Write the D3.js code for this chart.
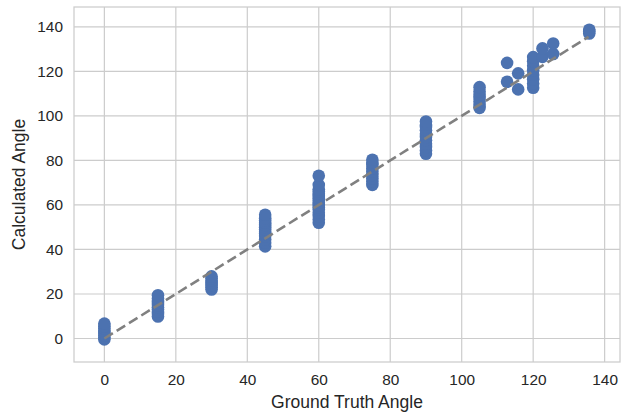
<!DOCTYPE html>
<html>
<head>
<meta charset="utf-8">
<script src="https://cdn.jsdelivr.net/npm/d3@7"></script>
<style>
  body { margin: 0; background: #fff; }
  text { font-family: "Liberation Sans", Arial, sans-serif; fill: #262626; }
</style>
</head>
<body>
<svg id="chart" width="630" height="412"></svg>
<script>
// ground truth angle of each group, and the calculated angles measured for it
var truthAngles = [0, 15, 30, 45, 60, 75, 90, 105, 112.7, 115.8, 120, 122.6, 125.6, 135.7];
var calcAngles = [
  [-0.4, 0.5, 1.5, 2.5, 3.5, 4.5, 5.5, 6.7],
  [9.9, 11, 12, 13, 14, 15, 16, 17, 18, 19.4],
  [22, 23, 24, 25, 26, 27, 27.9],
  [41.4, 43, 44.5, 46, 47, 48, 49, 50, 51, 52, 53, 54, 55.6],
  [52, 53.5, 55, 56.5, 58, 59, 60, 61, 62, 63, 64, 65, 66, 67, 69, 73.1],
  [69, 70.5, 72, 73.5, 75, 76.5, 78, 79, 80.3],
  [83, 84.5, 86, 87.5, 89, 90.5, 92, 93.5, 95, 96, 97.5],
  [103.6, 105, 106.5, 108, 109.5, 111, 112.9],
  [115.3, 123.8],
  [111.9, 119.1],
  [112.6, 114.5, 116.5, 118.5, 120.5, 122.5, 124.5, 126.4],
  [126.5, 130.3],
  [127.8, 132.5],
  [137, 138, 138.7]
];
var xTicks = [0, 20, 40, 60, 80, 100, 120, 140];
var yTicks = [0, 20, 40, 60, 80, 100, 120, 140];
var identityLine = [0, 135.5];

var svg = d3.select('#chart');
var plot = { left: 74, right: 620, top: 7, bottom: 362 };

var x = d3.scaleLinear().domain([-8.5, 144.3]).range([plot.left, plot.right]);
var y = d3.scaleLinear().domain([-10.55, 148.9]).range([plot.bottom, plot.top]);

//grid lines
var grid = svg.append('g');
grid.selectAll('.vgrid').data(xTicks).enter().append('line')
  .attr('x1', function (d) { return x(d); })
  .attr('x2', function (d) { return x(d); })
  .attr('y1', plot.top)
  .attr('y2', plot.bottom)
  .attr('stroke', '#cccccc')
  .attr('stroke-width', 1.2);
grid.selectAll('.hgrid').data(yTicks).enter().append('line')
  .attr('y1', function (d) { return y(d); })
  .attr('y2', function (d) { return y(d); })
  .attr('x1', plot.left)
  .attr('x2', plot.right)
  .attr('stroke', '#cccccc')
  .attr('stroke-width', 1.2);

//frame
svg.append('rect')
  .attr('x', plot.left)
  .attr('y', plot.top)
  .attr('width', plot.right - plot.left)
  .attr('height', plot.bottom - plot.top)
  .attr('fill', 'none')
  .attr('stroke', '#cccccc')
  .attr('stroke-width', 1.25);

//axes, labels only
var xAxis = svg.append('g')
  .attr('transform', 'translate(0,' + plot.bottom + ')')
  .call(d3.axisBottom(x).tickValues(xTicks).tickSize(0).tickPadding(12));
var yAxis = svg.append('g')
  .attr('transform', 'translate(' + plot.left + ',0)')
  .call(d3.axisLeft(y).tickValues(yTicks).tickSize(0).tickPadding(11));
[xAxis, yAxis].forEach(function (a) {
  a.select('.domain').remove();
  a.selectAll('text')
    .attr('font-family', '"Liberation Sans", Arial, sans-serif')
    .attr('font-size', 15.4)
    .attr('fill', '#262626');
});

//points
var points = [];
truthAngles.forEach(function (t, i) {
  calcAngles[i].forEach(function (c) { points.push({ truth: t, calc: c }); });
});
svg.append('g').selectAll('circle').data(points).enter().append('circle')
  .attr('cx', function (d) { return x(d.truth); })
  .attr('cy', function (d) { return y(d.calc); })
  .attr('r', 6.3)
  .attr('fill', '#4c72b0');

//y = x reference line
svg.append('line')
  .attr('x1', x(identityLine[0]))
  .attr('y1', y(identityLine[0]))
  .attr('x2', x(identityLine[1]))
  .attr('y2', y(identityLine[1]))
  .attr('stroke', '#808080')
  .attr('stroke-width', 2.6)
  .attr('stroke-dasharray', '10,4.5');

svg.append('text')
  .attr('x', (plot.left + plot.right) / 2)
  .attr('y', 408)
  .attr('text-anchor', 'middle')
  .attr('font-size', 17.5)
  .text('Ground Truth Angle');

svg.append('text')
  .attr('transform', 'translate(25,' + (plot.top + plot.bottom) / 2 + ') rotate(-90)')
  .attr('text-anchor', 'middle')
  .attr('font-size', 17.5)
  .text('Calculated Angle');
</script>
</body>
</html>
